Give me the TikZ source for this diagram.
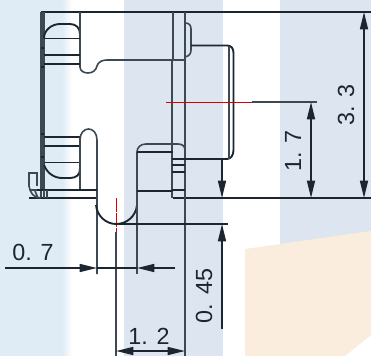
\documentclass[tikz,border=0pt]{standalone}
\usepackage{fontspec}
\setmainfont{Liberation Sans}
\usetikzlibrary{arrows.meta}
\definecolor{inkdark}{HTML}{1B2630}
\definecolor{inkgrey}{HTML}{3C4853}
\definecolor{bandblue}{HTML}{DDE5F0}
\definecolor{bandsky}{HTML}{DFEBF5}
\definecolor{bandorange}{HTML}{FBEDDD}
\tikzset{
    outline/.style={draw=inkdark, line width=1.4pt},
    thinline/.style={draw=inkgrey, line width=1.2pt},
    dimline/.style={draw=inkdark, line width=1.2pt},
    dimtip/.style={-{Triangle[length=13pt,width=6pt]}},
    bothtips/.style={{Triangle[length=13pt,width=6pt]}-{Triangle[length=13pt,width=6pt]}},
    centreline/.style={draw=red!85!black, line width=0.7pt},
    dimtext/.style={text=inkdark, font=\fontsize{17.5}{17.5}\selectfont, inner sep=0pt},
}

\begin{document}
\begin{tikzpicture}[x=0.75pt,y=-0.75pt]
    \useasboundingbox (0,0) rectangle (371,356);

    % Background bands
    \fill[white] (0,0) rectangle (371,356);
    \fill[bandsky] (0,0) rectangle (62,356);
    \shade[left color=bandsky, right color=white] (62,0) rectangle (72,356);
    \fill[bandblue] (124,0) rectangle (223,356);
    \fill[bandblue] (280,0) rectangle (371,246);
    \fill[bandorange] (245,249) -- (371,231) -- (371,335) -- (345,356) -- (245,356) -- cycle;

    % Outer lines
    \draw[outline] (41,12) -- (371,12);
    \draw[thinline] (41,12) -- (41,198);
    \draw[draw=inkgrey, line width=1.8pt] (43.5,12) -- (43.5,190);
    \draw[outline] (29,198) -- (97,198);
    \draw[outline] (173,198) -- (371,198);
    \draw[thinline] (173,12) -- (173,60);
    \draw[thinline] (172,60) -- (172,198);
    \draw[thinline] (185,12) -- (185,356);

    % Upper pad and notch
    \draw[outline] (44,38) .. controls (44,30) and (52,24) .. (60,24) -- (70,24) .. controls (76,24) and (80,28) .. (80,34);
    \draw[thinline] (80,12) -- (80,67) .. controls (80,71) and (84,73) .. (88,73) .. controls (93,73) and (96,70) .. (97,66) .. controls (98,62) and (102,60) .. (107,60) -- (185,60);
    \draw[outline] (44,38.5) -- (80,38.5);
    \draw[outline] (44,55) -- (80,55);
    \draw[outline] (44,64) -- (80,64);

    % Lower pad
    \draw[outline] (44,137) -- (80,137);
    \draw[outline] (44,146) -- (80,146);
    \draw[outline] (44,162.5) -- (80,162.5);
    \draw[outline] (44,165) .. controls (47,173) and (54,178) .. (62,178) -- (70,178) .. controls (76,178) and (80,175) .. (80,169);
    \draw[thinline] (80,137) -- (80,190);

    % Slot
    \draw[thinline] (80,140) .. controls (80,133) and (84,129) .. (88.5,129) .. controls (93,129) and (97,133) .. (97,140) -- (97,274);
    \draw[outline] (96,205) .. controls (97,216) and (106,224) .. (116,224) .. controls (127,224) and (136,216) .. (137,205);
    \draw[thinline] (137,152) -- (137,274);

    % Foot on the left
    \draw[thinline] (29,186) -- (29,173) -- (37,173) -- (37,186);
    \draw[thinline] (29,186) .. controls (30,193) and (34,198) .. (41,198);
    \draw[outline] (37,190) -- (97,190);
    \draw[thinline] (44,190) -- (44,198);
    \draw[thinline] (47,190) -- (47,198);
    \draw[thinline] (30,190) -- (37,190);
    \draw[thinline] (35,191) -- (38,198);

    % Ticks along the left side
    \foreach \ticky in {48,67,134,157} {
        \draw[outline] (41,\ticky) -- (44,\ticky);
    }

    % Lower right pad
    \draw[thinline] (137,152) .. controls (137,147) and (141,144) .. (146,144) -- (178,144) .. controls (182,144) and (185,146) .. (185,150);
    \draw[outline] (137,152) -- (173,152);
    \draw[outline] (137,191) -- (173,191);
    \draw[outline] (172,165) -- (185,165);
    \draw[outline] (172,172) -- (185,172);
    \draw[outline] (172,190) -- (185,190);

    % Right body
    \draw[thinline] (185,23) .. controls (189,23) and (191,25) .. (191,29) -- (191,50) .. controls (191,54) and (189,56) .. (185,57);
    \draw[outline] (191,45.5) -- (227,45.5) .. controls (231,45.5) and (233.5,48) .. (233.5,53) -- (233.5,150) .. controls (233.5,155) and (231,159) .. (227,159) -- (172,159);
    \draw[thinline] (229,46) -- (229,159);

    % Centre lines
    \draw[centreline] (166,102) -- (252,102);
    \draw[centreline, dashed, dash pattern=on 5pt off 0.6pt] (116,198) -- (116,232);

    % Extension lines
    \draw[thinline] (252,102) -- (317,102);
    \draw[outline] (116,224) -- (228,224);
    \draw[thinline] (116,232) -- (116,356);

    % Named ends of the dimensions
    \coordinate (topthree) at (364,12);
    \coordinate (botthree) at (364,198);
    \coordinate (topone) at (311,102);
    \coordinate (botone) at (311,198);
    \coordinate (startfour) at (222,160);
    \coordinate (tipfour) at (222,198);
    \coordinate (tipfive) at (222,224);
    \coordinate (endfive) at (222,329);
    \coordinate (startseven) at (5,268);
    \coordinate (tipseven) at (97,268);
    \coordinate (tipeight) at (137,268);
    \coordinate (endeight) at (175,268);
    \coordinate (lefttwelve) at (116,351);
    \coordinate (righttwelve) at (185,351);

    % Dimensions
    \draw[dimline, bothtips] (botthree) -- (topthree);
    \draw[dimline, bothtips] (botone) -- (topone);
    \draw[dimline, dimtip] (startfour) -- (tipfour);
    \draw[dimline, dimtip] (endfive) -- (tipfive);
    \draw[dimline, dimtip] (startseven) -- (tipseven);
    \draw[dimline] (tipseven) -- (tipeight);
    \draw[dimline, dimtip] (endeight) -- (tipeight);
    \draw[dimline, bothtips] (lefttwelve) -- (righttwelve);

    % Labels
    \node[dimtext, rotate=90] (labelthree) at (346,105) {3. 3};
    \node[dimtext, rotate=90] (labelone) at (293,151) {1. 7};
    \node[dimtext, rotate=90] (labelfour) at (204,296) {0. 45};
    \node[dimtext] (labelseven) at (33,252) {0. 7};
    \node[dimtext] (labeltwelve) at (149,336) {1. 2};
\end{tikzpicture}
\end{document}
